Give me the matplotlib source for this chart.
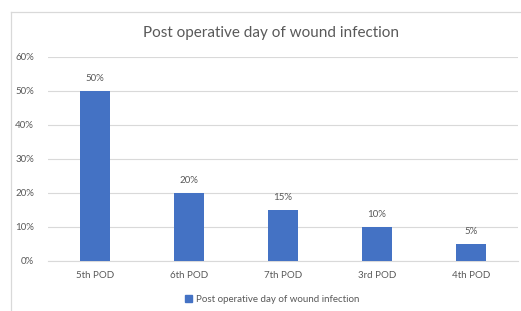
import matplotlib
matplotlib.use('Agg')
import matplotlib.pyplot as plt
from matplotlib.lines import Line2D

plt.rcParams['font.family'] = ['Lato', 'DejaVu Sans']

categories = ['5th POD', '6th POD', '7th POD', '3rd POD', '4th POD']
values = [0.50, 0.20, 0.15, 0.10, 0.05]
yTicks = [0.0, 0.1, 0.2, 0.3, 0.4, 0.5, 0.6]
seriesName = 'Post operative day of wound infection'

W, H = 521, 311
BAR = '#4472C4'
TEXT = '#595959'
GRID = '#D9D9D9'

fig = plt.figure(figsize=(W / 100, H / 100), dpi=100)
fig.patch.set_facecolor('white')

# chart frame (only top and left edges show in the crop)
fig.add_artist(Line2D([11 / W, 1], [1 - 12 / H, 1 - 12 / H], color=GRID, linewidth=0.9))
fig.add_artist(Line2D([11 / W, 11 / W], [0, 1 - 12 / H], color=GRID, linewidth=0.9))

ax = fig.add_axes([48 / W, 1 - 261 / H, (518 - 48) / W, (261 - 57) / H])
x = range(len(categories))
bars = ax.bar(x, values, width=0.31, color=BAR, zorder=3)

for rect, v in zip(bars, values):
    ax.annotate(f'{v:.0%}', (rect.get_x() + rect.get_width() / 2, v),
                xytext=(0, 6), textcoords='offset points',
                ha='center', va='bottom', fontsize=7, color=TEXT)

ax.set_xlim(-0.5, len(categories) - 0.5)
ax.set_ylim(0, 0.6)
ax.set_yticks(yTicks)
ax.set_yticklabels([f'{t:.0%}' for t in yTicks])
ax.set_xticks(list(x))
ax.set_xticklabels(categories)
ax.tick_params(axis='both', length=0, labelsize=7, colors=TEXT)
ax.tick_params(axis='y', pad=10)
ax.tick_params(axis='x', pad=7)
ax.grid(axis='y', color=GRID, linewidth=0.8, zorder=0)
for s in ['top', 'right', 'left']:
    ax.spines[s].set_visible(False)
ax.spines['bottom'].set_color(GRID)
ax.spines['bottom'].set_linewidth(0.8)

fig.text(271 / W, 1 - 33 / H, 'Post operative day of wound infection',
         ha='center', va='center', fontsize=11, color=TEXT)

handle = plt.Rectangle((0, 0), 1, 1, color=BAR)
fig.legend([handle], [seriesName], loc='center', bbox_to_anchor=(272 / W, 1 - 299 / H),
           frameon=False, fontsize=7, labelcolor=TEXT, handlelength=0.7, handleheight=0.7,
           handletextpad=0.4)

plt.savefig('out.png', dpi=100)
plt.close()
